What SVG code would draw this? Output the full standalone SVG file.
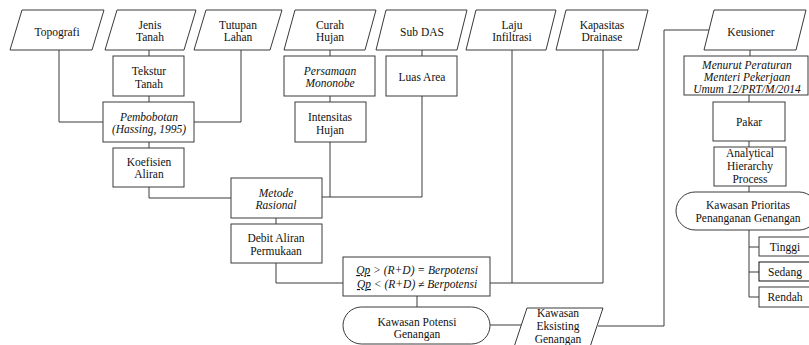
<svg xmlns="http://www.w3.org/2000/svg" width="809" height="345" viewBox="0 0 809 345" font-family="Liberation Serif, Times New Roman, Times, DejaVu Serif, serif">
<style>
.s{fill:#fff;stroke:#3a3a3a;stroke-width:1}
.c{fill:none;stroke:#3a3a3a;stroke-width:1}
text{font-size:11.5px;fill:#111;text-anchor:middle}
.i{font-style:italic}
</style>
<rect width="809" height="345" fill="#fff"/>
<g id="connectors">
<path class="c" d="M59,50 V122 H103"/>
<path class="c" d="M241,50 V122 H194"/>
<path class="c" d="M149,50 V56 M149,96 V102 M149,142 V148"/>
<path class="c" d="M149,187 V198 H231"/>
<path class="c" d="M330,50 V56 M330,96 V102 M330,142 V197"/>
<path class="c" d="M422,50 V56 M422,96 V197 H322"/>
<path class="c" d="M276,218 V224"/>
<path class="c" d="M276,263 V283 H343"/>
<path class="c" d="M512,50 V283"/>
<path class="c" d="M603,50 V283 H490"/>
<path class="c" d="M417,296 V307"/>
<path class="c" d="M490,325 H521"/>
<path class="c" d="M598,326 H664 V30 H709"/>
<path class="c" d="M750,50 V56 M749,95 V102 M749,141 V147 M749,186 V192 M749,230 V297"/>
<path class="c" d="M749,247 H759 M749,272 H759 M749,297 H759"/>
</g>
<g id="topografi"><polygon class="s" points="22,10 104,10 92,50 10,50"/><text x="57" y="35.5">Topografi</text></g>
<g id="jenis-tanah"><polygon class="s" points="117,10 196,10 184,50 105,50"/><text x="150" y="29">Jenis</text><text x="150" y="41">Tanah</text></g>
<g id="tutupan-lahan"><polygon class="s" points="206,10 282,10 270,50 194,50"/><text x="238" y="29">Tutupan</text><text x="238" y="41">Lahan</text></g>
<g id="curah-hujan"><polygon class="s" points="295,10 376,10 365,50 284,50"/><text x="330" y="29">Curah</text><text x="330" y="41">Hujan</text></g>
<g id="sub-das"><polygon class="s" points="386,10 467,10 457,50 376,50"/><text x="422" y="35.5">Sub DAS</text></g>
<g id="laju-infiltrasi"><polygon class="s" points="476,10 556,10 546,50 466,50"/><text x="512" y="29">Laju</text><text x="512" y="41">Infiltrasi</text></g>
<g id="kapasitas-drainase"><polygon class="s" points="566,10 648,10 638,50 556,50"/><text x="602" y="29">Kapasitas</text><text x="602" y="41">Drainase</text></g>
<g id="keusioner"><polygon class="s" points="714,10 806,10 796,50 704,50"/><text x="751" y="35.5">Keusioner</text></g>
<g id="tekstur-tanah"><rect class="s" x="113" y="56" width="71" height="40"/><text x="149" y="75">Tekstur</text><text x="149" y="88">Tanah</text></g>
<g id="pembobotan"><rect class="s" x="103" y="102" width="91" height="40"/><text class="i" x="149" y="121">Pembobotan</text><text class="i" x="149" y="133">(Hassing, 1995)</text></g>
<g id="koefisien-aliran"><rect class="s" x="113" y="148" width="71" height="39"/><text x="149" y="166">Koefisien</text><text x="149" y="178">Aliran</text></g>
<g id="persamaan-mononobe"><rect class="s" x="284" y="56" width="91" height="40"/><text class="i" x="330" y="75">Persamaan</text><text class="i" x="330" y="87">Mononobe</text></g>
<g id="intensitas-hujan"><rect class="s" x="295" y="102" width="71" height="40"/><text x="330" y="121">Intensitas</text><text x="330" y="134">Hujan</text></g>
<g id="luas-area"><rect class="s" x="386" y="56" width="71" height="40"/><text x="422" y="81">Luas Area</text></g>
<g id="metode-rasional"><rect class="s" x="231" y="178" width="91" height="40"/><text class="i" x="276" y="197">Metode</text><text class="i" x="276" y="209">Rasional</text></g>
<g id="debit-aliran"><rect class="s" x="231" y="224" width="91" height="39"/><text x="276" y="242">Debit Aliran</text><text x="276" y="255">Permukaan</text></g>
<g id="qp"><rect class="s" x="343" y="257" width="147" height="39"/><text class="i" x="417" y="274"><tspan text-decoration="underline">Qp</tspan> &gt; (R+D) = Berpotensi</text><text class="i" x="417" y="288"><tspan text-decoration="underline">Qp</tspan> &lt; (R+D) ≠ Berpotensi</text></g>
<g id="kawasan-potensi"><rect class="s" x="343" y="307" width="147" height="37" rx="18.5" ry="18.5"/><text x="417" y="326">Kawasan Potensi</text><text x="417" y="338">Genangan</text></g>
<g id="kawasan-eksisting"><polygon class="s" points="527,308 603,308 589,350 513,350"/><text x="558" y="316.5">Kawasan</text><text x="558" y="329.5">Eksisting</text><text x="558" y="342.5">Genangan</text></g>
<g id="menurut-peraturan"><rect class="s" x="684" y="56" width="124" height="39"/><text class="i" x="747" y="69">Menurut Peraturan</text><text class="i" x="747" y="81">Menteri Pekerjaan</text><text class="i" x="747" y="93">Umum 12/PRT/M/2014</text></g>
<g id="pakar"><rect class="s" x="713" y="102" width="72" height="39"/><text x="749" y="126">Pakar</text></g>
<g id="ahp"><rect class="s" x="714" y="147" width="72" height="39"/><text x="750" y="157">Analytical</text><text x="750" y="170">Hierarchy</text><text x="750" y="183">Process</text></g>
<g id="kawasan-prioritas"><rect class="s" x="676" y="192" width="142" height="38" rx="19" ry="19"/><text x="748" y="209">Kawasan Prioritas</text><text x="748" y="222">Penanganan Genangan</text></g>
<g id="tinggi"><rect class="s" x="759" y="237" width="55" height="19"/><text x="785" y="250.5">Tinggi</text></g>
<g id="sedang"><rect class="s" x="759" y="262" width="55" height="19" style="stroke:#111"/><text x="785" y="275.5">Sedang</text></g>
<g id="rendah"><rect class="s" x="759" y="287" width="55" height="20"/><text x="785" y="300.5">Rendah</text></g>
</svg>
